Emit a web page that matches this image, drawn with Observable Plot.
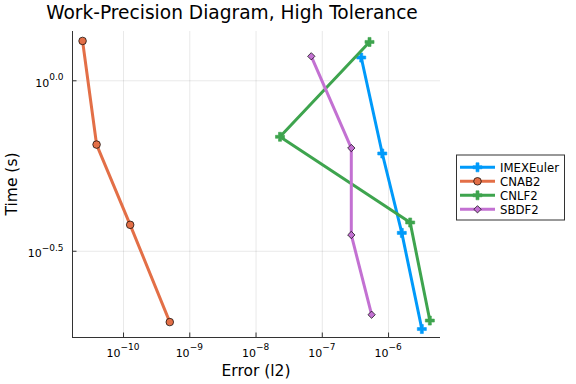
<!DOCTYPE html>
<html><head><meta charset="utf-8">
<script src="https://cdn.jsdelivr.net/npm/d3@7"></script>
<script src="https://cdn.jsdelivr.net/npm/@observablehq/plot@0.6"></script>
<style>body{margin:0;background:#fff} #chart{width:576px;height:384px}</style>
</head><body><div id="chart"></div>
<script>
// ---- data ----
const seriesNames = ["IMEXEuler", "CNAB2", "CNLF2", "SBDF2"];
const seriesColors = ["#009AFA", "#E36F47", "#3EA44E", "#C371D2"];
const seriesSymbols = ["cross", "circle", "cross", "diamond2"];

const imexEulerError = [3.87e-7, 8.04e-7, 1.585e-6, 3.18e-6];
const imexEulerTime  = [1.17, 0.612, 0.358, 0.187];
const cnab2Error = [2.41e-11, 3.92e-11, 1.26e-10, 4.99e-10];
const cnab2Time  = [1.309, 0.650, 0.378, 0.196];
const cnlf2Error = [5.16e-7, 2.30e-8, 2.12e-6, 4.20e-6];
const cnlf2Time  = [1.30, 0.685, 0.384, 0.198];
const sbdf2Error = [6.82e-8, 2.74e-7, 2.74e-7, 5.55e-7];
const sbdf2Time  = [1.18, 0.635, 0.353, 0.206];

const xTickExponents = [-10, -9, -8, -7, -6];
const yTickExponents = [0.0, -0.5];
const xTickLabels = ["\u221210", "\u22129", "\u22128", "\u22127", "\u22126"];
const yTickLabels = ["0.0", "\u22120.5"];

const titleText = "Work-Precision Diagram, High Tolerance";
const xLabel = "Error (l2)";
const yLabel = "Time (s)";

// ---- build table ----
const errs = [imexEulerError, cnab2Error, cnlf2Error, sbdf2Error];
const times = [imexEulerTime, cnab2Time, cnlf2Time, sbdf2Time];
const rows = seriesNames.flatMap((s, i) => errs[i].map((e, j) => ({series: s, err: e, time: times[i][j]})));

const W = 576, H = 384, mL = 72, mR = 136, mT = 31, mB = 47;
const plotH = H - mT - mB, plotW = W - mL - mR;
const xDomain = [10 ** -10.77, 10 ** -5.216];
const yDomain = [10 ** -0.753, 10 ** 0.1446];
const xTicks = xTickExponents.map(e => 10 ** e);
const yTicks = yTickExponents.map(e => 10 ** e);
const font = "DejaVu Sans, sans-serif";
const axisColor = "#333";

function dotOpts(i) {
  const sym = seriesSymbols[i];
  const outlined = sym !== "cross";
  return {
    x: "err", y: "time", symbol: sym,
    fill: seriesColors[i],
    stroke: outlined ? "#000" : seriesColors[i],
    strokeWidth: outlined ? 0.7 : 0.6,
    r: sym === "circle" ? 3.8 : sym === "diamond2" ? 3.3 : 3.8
  };
}

const seriesMarks = seriesNames.flatMap((s, i) => {
  const data = rows.filter(d => d.series === s);
  return [
    Plot.line(data, {x: "err", y: "time", stroke: seriesColors[i], strokeWidth: 3}),
    Plot.dot(data, dotOpts(i))
  ];
});

function textMarks(index, scales, values, dims) {
  const g = d3.create("svg:g").attr("font-family", font).attr("fill", "#000");
  // x tick labels
  xTicks.forEach((v, k) => {
    g.append("text").attr("x", scales.x(v)).attr("y", H - mB + 20)
      .attr("text-anchor", "middle").attr("font-size", 11)
      .html(`10<tspan dy="-6.7" font-size="9">${xTickLabels[k]}</tspan>`);
  });
  // y tick labels
  yTicks.forEach((v, k) => {
    g.append("text").attr("x", mL - 8.5).attr("y", scales.y(v) + 6.7)
      .attr("text-anchor", "end").attr("font-size", 11)
      .html(`10<tspan dy="-6.7" font-size="9">${yTickLabels[k]}</tspan>`);
  });
  // axis labels
  g.append("text").attr("x", mL + plotW / 2).attr("y", 376)
    .attr("text-anchor", "middle").attr("font-size", 15.5).text(xLabel);
  g.append("text").attr("transform", `translate(16.5,${mT + plotH / 2}) rotate(-90)`)
    .attr("text-anchor", "middle").attr("font-size", 15.5).text(yLabel);
  // title
  g.append("text").attr("x", 232).attr("y", 18.7)
    .attr("text-anchor", "middle").attr("font-size", 18.6).text(titleText);
  // legend
  const lx = 456.5, ly = 155, lw = 108, lh = 65;
  g.append("rect").attr("x", lx).attr("y", ly).attr("width", lw).attr("height", lh)
    .attr("fill", "#fff").attr("stroke", axisColor).attr("stroke-width", 1);
  seriesNames.forEach((s, i) => {
    const yy = 167.3 + i * 14;
    g.append("line").attr("x1", 460).attr("x2", 495).attr("y1", yy).attr("y2", yy)
      .attr("stroke", seriesColors[i]).attr("stroke-width", 3);
    const o = dotOpts(i);
    const symMap = {cross: d3.symbolCross, circle: d3.symbolCircle, diamond2: d3.symbolDiamond2};
    g.append("path").attr("transform", `translate(477.5,${yy})`)
      .attr("d", d3.symbol(symMap[o.symbol], Math.PI * o.r * o.r)())
      .attr("fill", o.fill).attr("stroke", o.stroke).attr("stroke-width", o.strokeWidth);
    g.append("text").attr("x", 500).attr("y", yy + 4.2).attr("text-anchor", "start")
      .attr("font-size", 11.7).text(s);
  });
  return g.node();
}

const chart = Plot.plot({
  width: W, height: H,
  marginLeft: mL, marginRight: mR, marginTop: mT, marginBottom: mB,
  x: {type: "log", domain: xDomain, axis: null},
  y: {type: "log", domain: yDomain, axis: null},
  style: {fontFamily: font, background: "#fff", overflow: "visible"},
  marks: [
    Plot.ruleX(xTicks, {stroke: "#000", strokeOpacity: 0.09, strokeWidth: 1}),
    Plot.ruleY(yTicks, {stroke: "#000", strokeOpacity: 0.09, strokeWidth: 1}),
    Plot.ruleX(xTicks, {insetTop: plotH - 4.5, stroke: axisColor, strokeWidth: 1}),
    Plot.ruleY(yTicks, {insetRight: plotW - 4.5, stroke: axisColor, strokeWidth: 1}),
    Plot.ruleX([xDomain[0]], {stroke: axisColor, strokeWidth: 1}),
    Plot.ruleY([yDomain[0]], {stroke: axisColor, strokeWidth: 1}),
    ...seriesMarks,
    textMarks
  ]
});
document.getElementById("chart").appendChild(chart);
</script>
</body></html>
